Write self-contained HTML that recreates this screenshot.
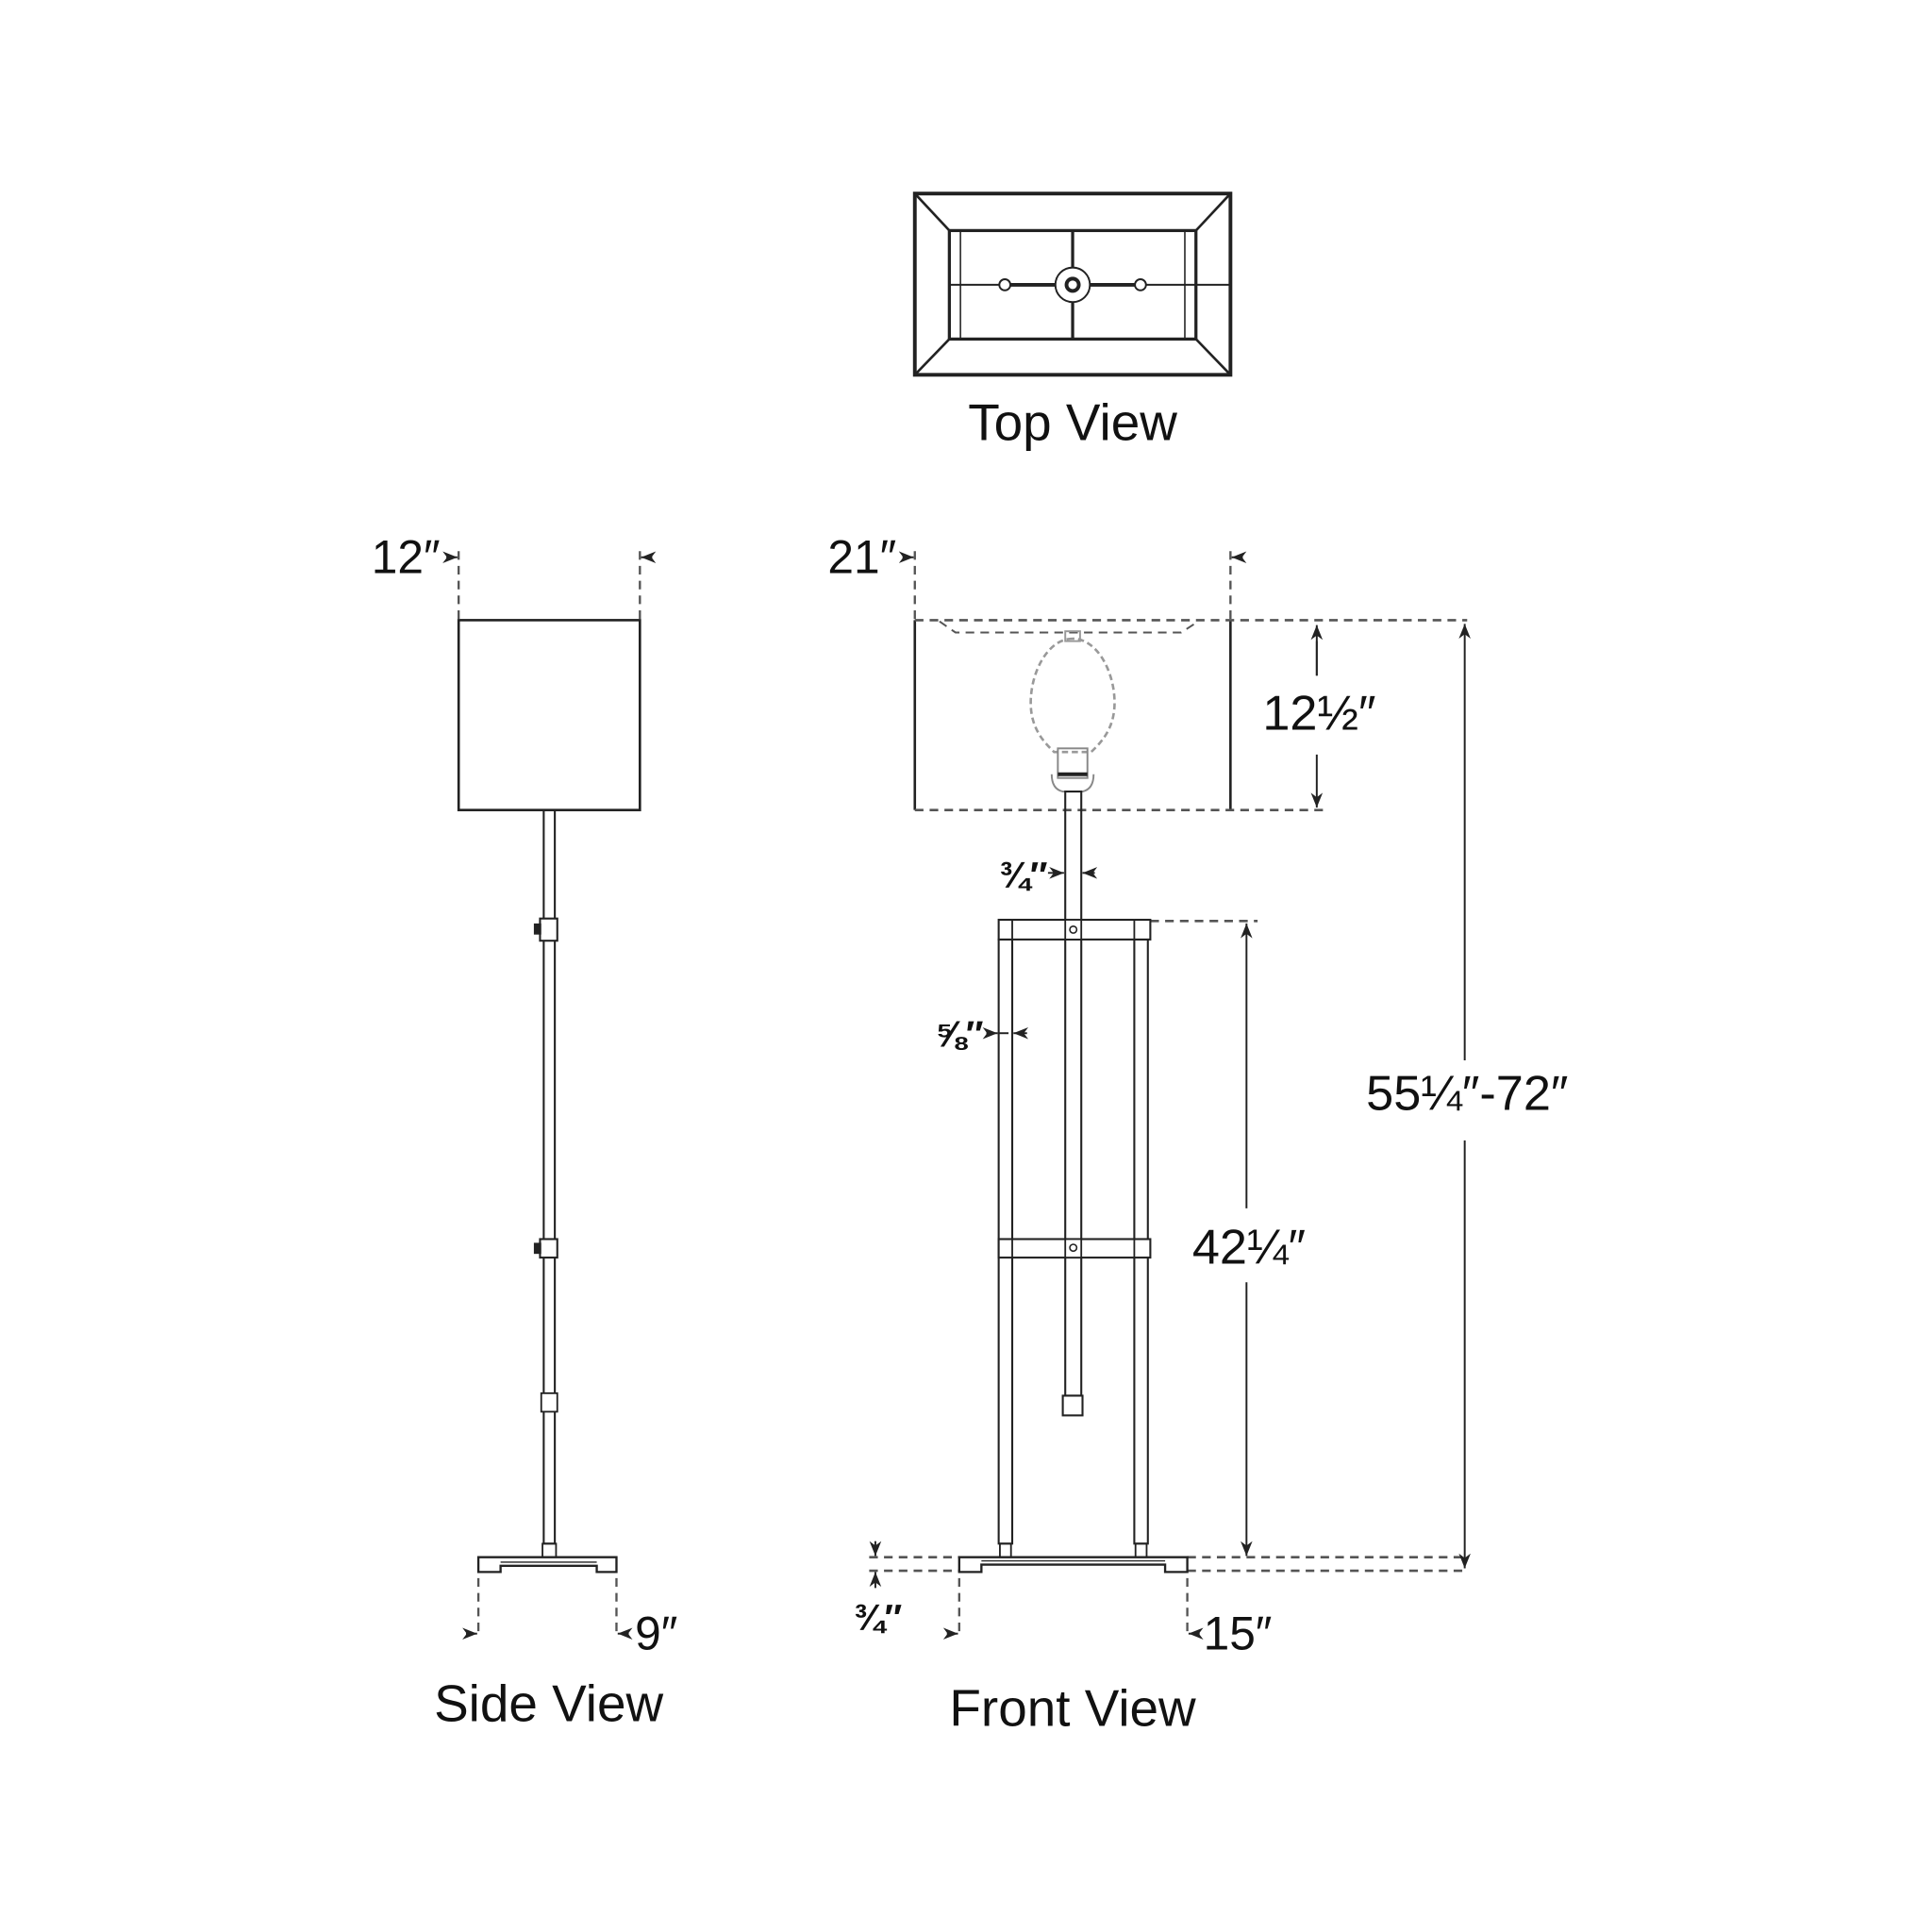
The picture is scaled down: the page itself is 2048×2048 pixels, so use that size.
<!DOCTYPE html>
<html><head><meta charset="utf-8"><style>
html,body{margin:0;padding:0;background:#fff;}
svg{display:block;}
text{font-family:"Liberation Sans Narrow","Liberation Sans",sans-serif;fill:#111;}
</style></head><body>
<svg width="2048" height="2048" viewBox="0 0 1567 1567" xmlns="http://www.w3.org/2000/svg">
<defs>
<marker id="ar" viewBox="0 0 10 10" refX="10" refY="5" markerWidth="8" markerHeight="8" orient="auto-start-reverse"><path d="M0,1 L10,5 L0,9 L3,5 Z" fill="#222"/></marker>
</defs>
<g fill="none" stroke="#222" stroke-width="2">
<!-- TOP VIEW -->
<rect x="742" y="157" width="256" height="147" stroke-width="3"/>
<rect x="770" y="187" width="200" height="88" stroke-width="2.5"/>
<line x1="742" y1="157" x2="770" y2="187"/><line x1="998" y1="157" x2="970" y2="187"/>
<line x1="742" y1="304" x2="770" y2="275"/><line x1="998" y1="304" x2="970" y2="275"/>
<line x1="779" y1="187" x2="779" y2="275" stroke-width="1.2"/><line x1="961" y1="187" x2="961" y2="275" stroke-width="1.2"/>
<line x1="870" y1="187" x2="870" y2="275" stroke-width="2.5"/>
<line x1="770" y1="231" x2="998" y2="231" stroke-width="1.5"/>
<line x1="815" y1="231" x2="925" y2="231" stroke-width="3"/>
<circle cx="870" cy="231" r="14" stroke-width="1.5" fill="#fff"/>
<circle cx="870" cy="231" r="5" stroke-width="3" fill="#fff"/>
<circle cx="815" cy="231" r="4.5" stroke-width="1.5" fill="#fff"/>
<circle cx="925" cy="231" r="4.5" stroke-width="1.5" fill="#fff"/>

<!-- SIDE VIEW -->
<rect x="372" y="503" width="147" height="154" stroke-width="2"/>
<g stroke-dasharray="7,5" stroke="#555" stroke-width="1.8">
<line x1="372" y1="447" x2="372" y2="503"/><line x1="519" y1="447" x2="519" y2="503"/>
<line x1="388" y1="1280" x2="388" y2="1327"/><line x1="500" y1="1280" x2="500" y2="1327"/>
</g>
<line x1="362" y1="452" x2="371" y2="452" marker-end="url(#ar)" stroke-width="1.5"/>
<line x1="529" y1="452" x2="520" y2="452" marker-end="url(#ar)" stroke-width="1.5"/>
<line x1="378" y1="1325" x2="387" y2="1325" marker-end="url(#ar)" stroke-width="1.5"/>
<line x1="510" y1="1325" x2="501" y2="1325" marker-end="url(#ar)" stroke-width="1.5"/>
<rect x="441" y="657" width="9" height="595" stroke-width="1.6"/>
<rect x="438" y="745" width="14" height="18" fill="#fff" stroke-width="1.6"/>
<rect x="434" y="750" width="4" height="7" fill="#222"/>
<rect x="438" y="1005" width="14" height="15" fill="#fff" stroke-width="1.6"/>
<rect x="434" y="1009" width="4" height="7" fill="#222"/>
<rect x="439" y="1130" width="13" height="15" fill="#fff" stroke-width="1.4"/>
<rect x="440" y="1252" width="11" height="11" stroke-width="1.4"/>
<path d="M388,1275 L388,1263 L500,1263 L500,1275 L484,1275 L484,1270 L406,1270 L406,1275 Z" stroke-width="1.8"/>
<line x1="406" y1="1267" x2="484" y2="1267" stroke-width="1"/>

<!-- FRONT VIEW shade -->
<line x1="742" y1="503" x2="742" y2="657"/><line x1="998" y1="503" x2="998" y2="657"/>
<g stroke-dasharray="7,5" stroke="#555" stroke-width="2">
<line x1="742" y1="447" x2="742" y2="503" stroke-width="1.8"/><line x1="998" y1="447" x2="998" y2="503" stroke-width="1.8"/>
<line x1="742" y1="503" x2="1190" y2="503"/>
<line x1="742" y1="657" x2="1078" y2="657"/>
<path d="M762,504 L775,513 L958,513 L972,504" stroke-width="1.5"/>
<line x1="933" y1="747" x2="1020" y2="747"/>
<line x1="705" y1="1263" x2="778" y2="1263"/><line x1="963" y1="1263" x2="1190" y2="1263"/>
<line x1="705" y1="1274" x2="778" y2="1274"/><line x1="963" y1="1274" x2="1190" y2="1274"/>
<line x1="778" y1="1280" x2="778" y2="1327" stroke-width="1.8"/><line x1="963" y1="1280" x2="963" y2="1327" stroke-width="1.8"/>
</g>
<line x1="732" y1="452" x2="741" y2="452" marker-end="url(#ar)" stroke-width="1.5"/>
<line x1="1008" y1="452" x2="999" y2="452" marker-end="url(#ar)" stroke-width="1.5"/>
<line x1="768" y1="1325" x2="777" y2="1325" marker-end="url(#ar)" stroke-width="1.5"/>
<line x1="973" y1="1325" x2="964" y2="1325" marker-end="url(#ar)" stroke-width="1.5"/>
<!-- bulb -->
<path d="M870,518 C850,518 836,545 836,570 C836,592 848,603 855,610 L885,610 C892,603 904,592 904,570 C904,545 890,518 870,518 Z" stroke="#999" stroke-dasharray="5,3" stroke-width="2"/>
<rect x="864" y="512" width="12" height="8" stroke="#999" stroke-width="1.5"/>
<rect x="858" y="607" width="24" height="24" stroke="#888" stroke-width="1.5"/>
<line x1="858" y1="628" x2="882" y2="628" stroke="#222" stroke-width="3"/>
<path d="M853,628 Q853,640 862,642 L878,642 Q887,640 887,628" stroke="#888" stroke-width="1.5"/>
<!-- pole -->
<rect x="864" y="642" width="13" height="490" stroke-width="1.6"/>
<rect x="862" y="1132" width="16" height="16" fill="#fff" stroke-width="1.6"/>
<!-- frame -->
<rect x="810" y="762" width="11" height="490" stroke-width="1.6"/>
<rect x="920" y="762" width="11" height="490" stroke-width="1.6"/>
<rect x="810" y="746" width="123" height="16" fill="#fff" stroke-width="1.6"/>
<rect x="810" y="1005" width="123" height="15" fill="#fff" stroke-width="1.6"/>
<line x1="821" y1="746" x2="821" y2="762" stroke-width="1.4"/><line x1="920" y1="746" x2="920" y2="762" stroke-width="1.4"/>
<line x1="821" y1="1005" x2="821" y2="1020" stroke-width="1.4"/><line x1="920" y1="1005" x2="920" y2="1020" stroke-width="1.4"/>
<rect x="864" y="746" width="13" height="16" fill="#fff" stroke-width="1.4"/>
<rect x="864" y="1005" width="13" height="15" fill="#fff" stroke-width="1.4"/>
<circle cx="870.5" cy="754" r="2.8" stroke-width="1.2"/><circle cx="870.5" cy="1012" r="2.8" stroke-width="1.2"/>
<rect x="811" y="1252" width="9" height="11" stroke-width="1.4"/><rect x="921" y="1252" width="9" height="11" stroke-width="1.4"/>
<path d="M778,1275 L778,1263 L963,1263 L963,1275 L945,1275 L945,1269 L796,1269 L796,1275 Z" stroke-width="1.8"/>
<line x1="796" y1="1266" x2="945" y2="1266" stroke-width="1"/>
<!-- dims -->
<line x1="1068" y1="520" x2="1068" y2="548" stroke-width="1.5"/>
<line x1="1068" y1="548" x2="1068" y2="507" marker-end="url(#ar)" stroke-width="1.5"/>
<line x1="1068" y1="612" x2="1068" y2="655" marker-end="url(#ar)" stroke-width="1.5"/>
<line x1="1188" y1="860" x2="1188" y2="506" marker-end="url(#ar)" stroke-width="1.5"/>
<line x1="1188" y1="925" x2="1188" y2="1272" marker-end="url(#ar)" stroke-width="1.5"/>
<line x1="1011" y1="980" x2="1011" y2="749" marker-end="url(#ar)" stroke-width="1.5"/>
<line x1="1011" y1="1040" x2="1011" y2="1262" marker-end="url(#ar)" stroke-width="1.5"/>
<line x1="850" y1="708" x2="863" y2="708" marker-end="url(#ar)" stroke-width="1.5"/>
<line x1="888" y1="708" x2="878" y2="708" marker-end="url(#ar)" stroke-width="1.5"/>
<line x1="818" y1="838" x2="809" y2="838" stroke-width="1.5"/>
<line x1="800" y1="838" x2="809" y2="838" marker-end="url(#ar)" stroke-width="1.5"/>
<line x1="833" y1="838" x2="822" y2="838" marker-end="url(#ar)" stroke-width="1.5"/>
<line x1="710" y1="1250" x2="710" y2="1262" marker-end="url(#ar)" stroke-width="1.5"/>
<line x1="710" y1="1288" x2="710" y2="1275" marker-end="url(#ar)" stroke-width="1.5"/>
</g>
<g font-size="38">
<text x="870" y="357" text-anchor="middle" font-size="42">Top View</text>
<text x="445" y="1396" text-anchor="middle" font-size="42">Side View</text>
<text x="870" y="1400" text-anchor="middle" font-size="42">Front View</text>
<text x="357" y="465" text-anchor="end">12″</text>
<text x="727" y="465" text-anchor="end">21″</text>
<text x="515" y="1338">9″</text>
<text x="976" y="1338">15″</text>
<text x="1070" y="592" text-anchor="middle" font-size="40">12½″</text>
<text x="1190" y="900" text-anchor="middle" font-size="40">55¼″-72″</text>
<text x="1013" y="1025" text-anchor="middle" font-size="40">42¼″</text>
<text x="830" y="720" text-anchor="middle" font-size="30" font-weight="bold">¾″</text>
<text x="778" y="849" text-anchor="middle" font-size="30" font-weight="bold">⅝″</text>
<text x="712" y="1322" text-anchor="middle" font-size="30" font-weight="bold">¾″</text>
</g>
</svg>
</body></html>
